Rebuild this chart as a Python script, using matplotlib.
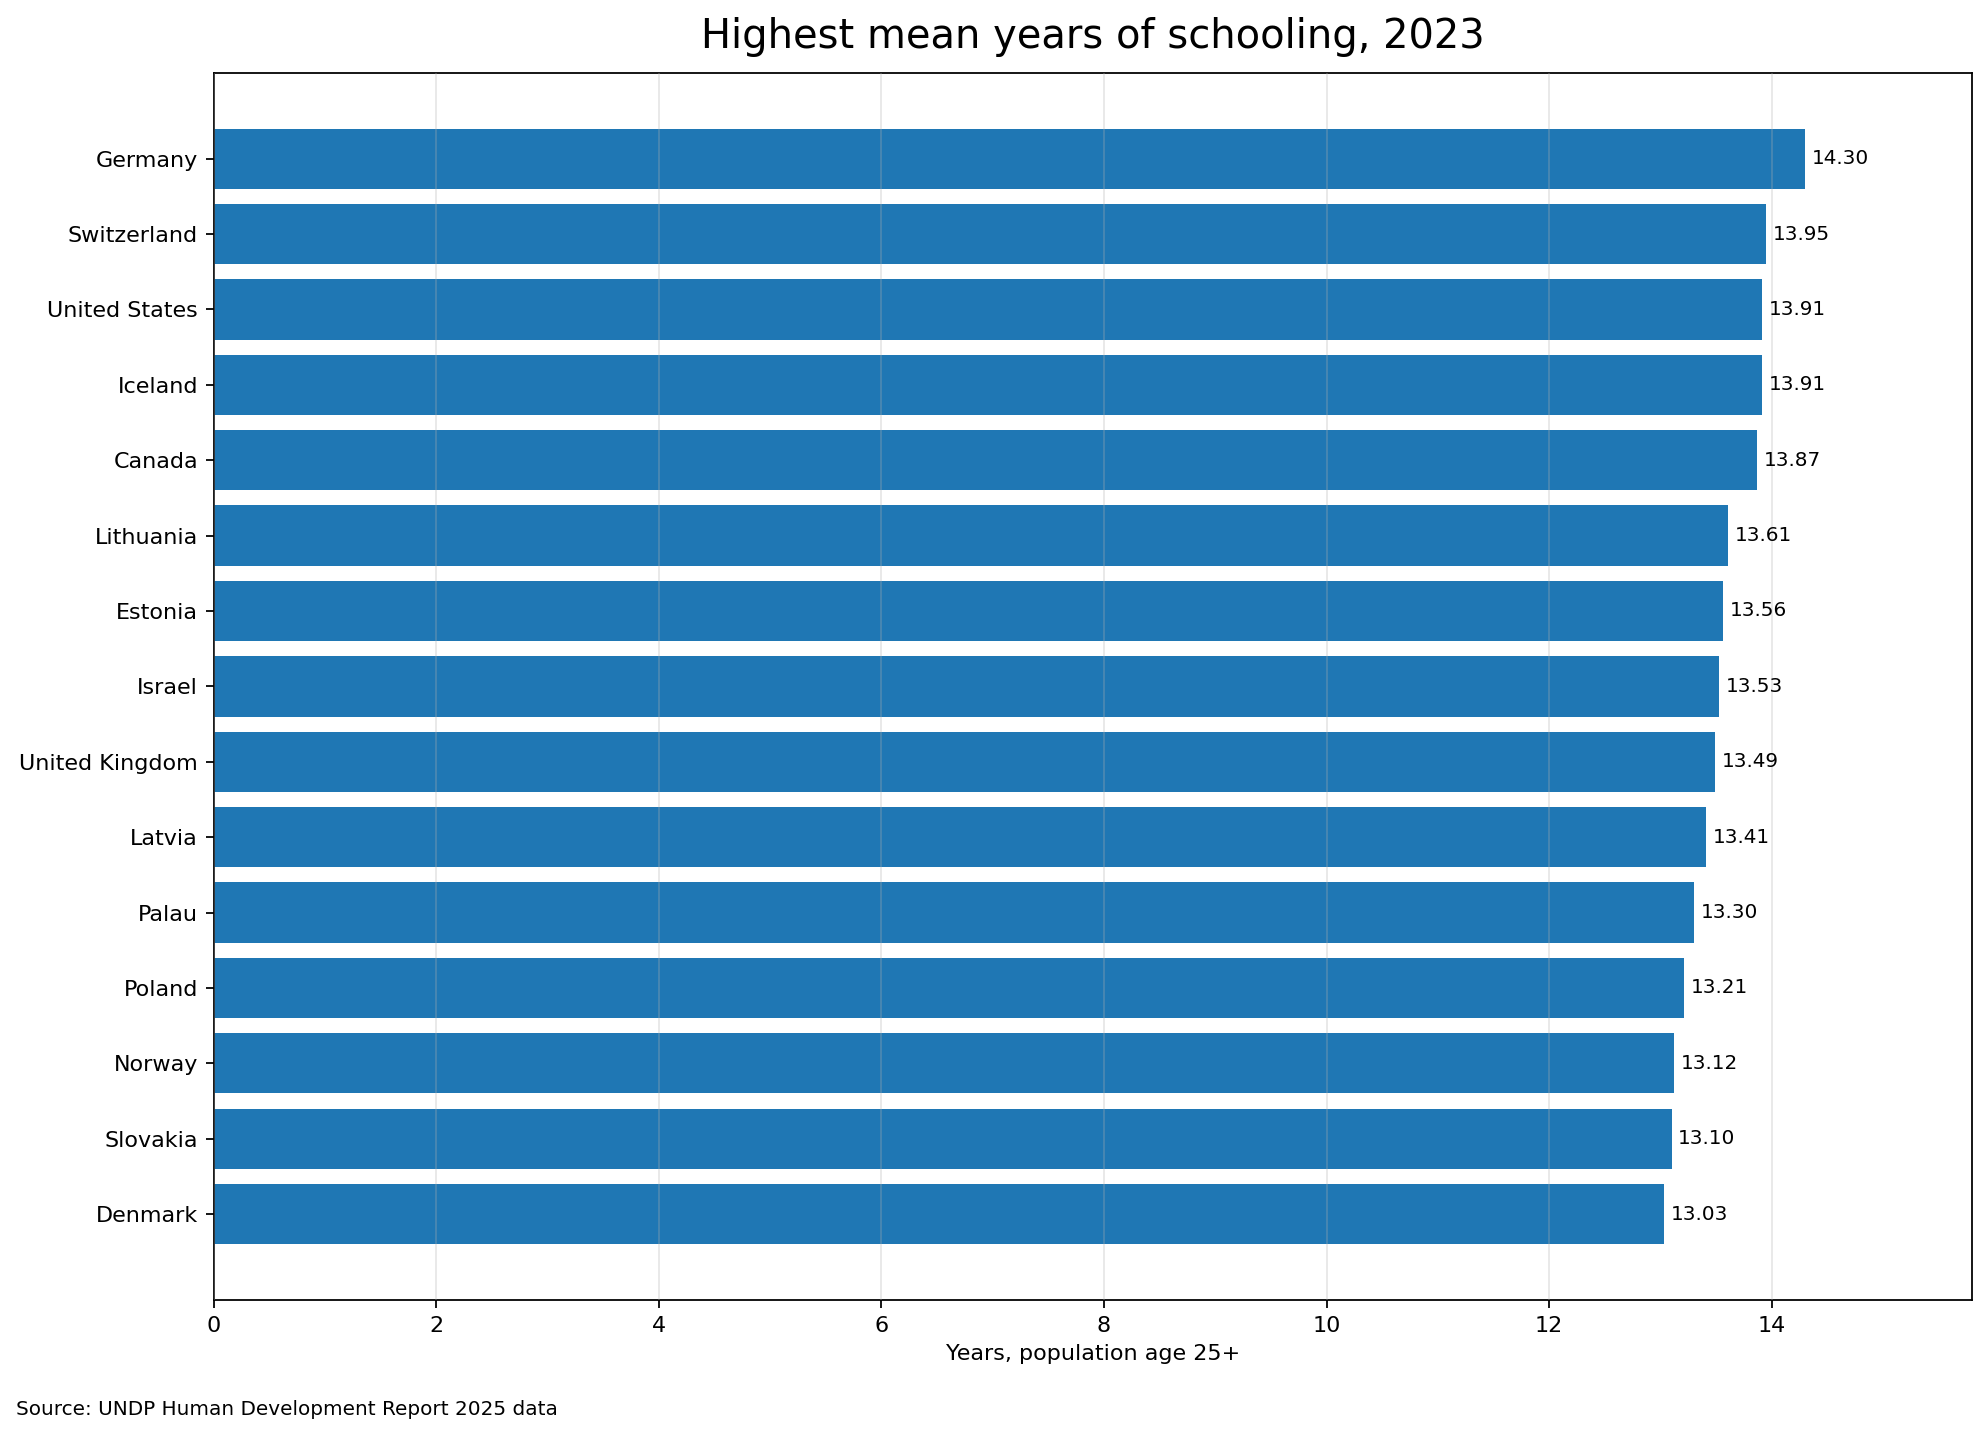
import matplotlib.pyplot as plt

countries = ["Germany", "Switzerland", "United States", "Iceland", "Canada",
             "Lithuania", "Estonia", "Israel", "United Kingdom", "Latvia",
             "Palau", "Poland", "Norway", "Slovakia", "Denmark"]
years = [14.30, 13.95, 13.91, 13.91, 13.87, 13.61, 13.56, 13.53, 13.49,
         13.41, 13.30, 13.21, 13.12, 13.10, 13.03]

fig = plt.figure(figsize=(1988 / 160, 1437 / 160), dpi=160)
ax = fig.add_axes([0.1074, 0.0953, 0.8846, 0.8541])

ypos = list(range(len(countries)))[::-1]
ax.barh(ypos, years, color="#1f77b4", height=0.8)
ax.set_yticks(ypos)
ax.set_yticklabels(countries, fontsize=10)
ax.tick_params(axis="x", labelsize=10)

for y, v in zip(ypos, years):
    ax.text(v + 0.06, y, f"{v:.2f}", va="center", ha="left", fontsize=9)

ax.set_xlim(0, max(years) + 1.5)
ax.grid(axis="x", alpha=0.3)
ax.set_axisbelow(False)
ax.set_xlabel("Years, population age 25+", fontsize=10)
ax.set_title("Highest mean years of schooling, 2023", fontsize=18, pad=11)

fig.text(0.008, 0.015, "Source: UNDP Human Development Report 2025 data", fontsize=9)

fig.savefig("out.png", dpi=160)
